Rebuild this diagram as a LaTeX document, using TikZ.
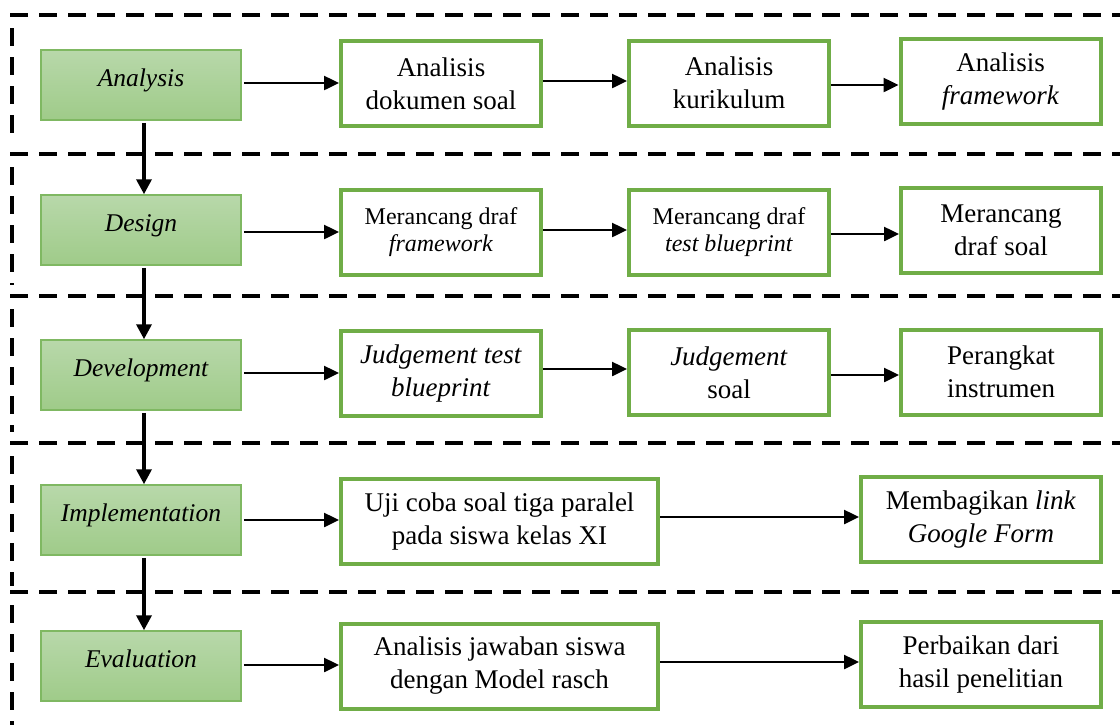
\documentclass[tikz,border=0pt]{standalone}
\usepackage{fontspec}
\setmainfont{Liberation Serif}
\usetikzlibrary{arrows.meta}
\definecolor{gborder}{HTML}{70AD47}
\definecolor{lborder}{HTML}{7FB862}
\definecolor{gtop}{HTML}{B8D8AA}
\definecolor{gbot}{HTML}{9FCB89}
\tikzset{
  phase/.style={draw=lborder, line width=1.5pt, top color=gtop, bottom color=gbot,
    minimum width=200pt, minimum height=70pt, inner sep=0pt,
    text height=18pt, text depth=15pt,
    font=\fontsize{25.5}{30}\selectfont\itshape},
  stepbox/.style={draw=gborder, line width=4pt, fill=white, inner sep=0pt,
    minimum height=85pt, align=center, font=\fontsize{27}{33}\selectfont},
  smallbox/.style={stepbox, font=\fontsize{24}{27}\selectfont},
  boxA/.style={minimum width=200pt},
  boxB/.style={minimum width=317pt},
  boxC/.style={minimum width=240pt},
  conn/.style={line width=2.5pt, -{Triangle[length=15pt, width=14pt]}},
  vconn/.style={line width=3.5pt, -{Triangle[length=15pt, width=15pt]}},
  sect/.style={line width=4pt, dash pattern=on 18pt off 11pt}
}
\begin{document}
\begin{tikzpicture}[x=1pt,y=-1pt]
\useasboundingbox (0,0) rectangle (1120,724);
% dashed section frames
\draw[sect] (1130,15) -- (12,15) -- (12,140);
\draw[sect] (1130,154) -- (12,154) -- (12,285);
\draw[sect] (1130,296) -- (12,296) -- (12,432);
\draw[sect] (1130,443) -- (12,443) -- (12,586);
\draw[sect] (1130,592) -- (12,592) -- (12,730);
% phase boxes
\node[phase] (an) at (141,85) {Analysis};
\node[phase] (de) at (141,230) {Design};
\node[phase] (dv) at (141,375) {Development};
\node[phase] (im) at (141,520) {Implementation};
\node[phase] (ev) at (141,666) {Evaluation};
% row 1
\node[stepbox, boxA] (a1) at (441,83.5) {Analisis\\dokumen soal};
\node[stepbox, boxA] (a2) at (729,83) {Analisis\\kurikulum};
\node[stepbox, boxA] (a3) at (1000.5,81.5) {Analisis\\\textit{framework}};
% row 2
\node[smallbox, boxA] (d1) at (441,232.5) {Merancang draf\\\textit{framework}};
\node[smallbox, boxA] (d2) at (729,232.5) {Merancang draf\\\textit{test blueprint}};
\node[stepbox, boxA] (d3) at (1001,230.5) {Merancang\\draf soal};
% row 3
\node[stepbox, boxA] (v1) at (441,373) {\textit{Judgement test}\\\textit{blueprint}};
\node[stepbox, boxA] (v2) at (729,372.5) {\textit{Judgement}\\soal};
\node[stepbox, boxA] (v3) at (1001,372) {Perangkat\\instrumen};
% row 4
\node[stepbox, boxB] (i1) at (499.5,521) {Uji coba soal tiga paralel\\pada siswa kelas XI};
\node[stepbox, boxC] (i2) at (981,519) {Membagikan \textit{link}\\\textit{Google Form}};
% row 5
\node[stepbox, boxB] (e1) at (499.5,666) {Analisis jawaban siswa\\dengan Model rasch};
\node[stepbox, boxC] (e2) at (981,664) {Perbaikan dari\\hasil penelitian};
% vertical arrows
\draw[vconn] ([shift={(3pt,-2pt)}]an.south) -- ([xshift=3pt]an.south |- de.north);
\draw[vconn] ([shift={(3pt,-2pt)}]de.south) -- ([xshift=3pt]de.south |- dv.north);
\draw[vconn] ([shift={(3pt,-2pt)}]dv.south) -- ([xshift=3pt]dv.south |- im.north);
\draw[vconn] ([shift={(3pt,-2pt)}]im.south) -- ([xshift=3pt]im.south |- ev.north);
% horizontal arrows
\draw[conn] ([xshift=2pt]an.east |- 0,83) -- (a1.west |- 0,83);
\draw[conn] (a1.east |- 0,81) -- (a2.west |- 0,81);
\draw[conn] (a2.east |- 0,85) -- (a3.west |- 0,85);
\draw[conn] ([xshift=2pt]de.east |- 0,232) -- (d1.west |- 0,232);
\draw[conn] (d1.east |- 0,230) -- (d2.west |- 0,230);
\draw[conn] (d2.east |- 0,234) -- (d3.west |- 0,234);
\draw[conn] ([xshift=2pt]dv.east |- 0,373) -- (v1.west |- 0,373);
\draw[conn] (v1.east |- 0,369) -- (v2.west |- 0,369);
\draw[conn] (v2.east |- 0,375) -- (v3.west |- 0,375);
\draw[conn] ([xshift=2pt]im.east |- 0,520) -- (i1.west |- 0,520);
\draw[conn] (i1.east |- 0,517) -- (i2.west |- 0,517);
\draw[conn] ([xshift=2pt]ev.east |- 0,665) -- (e1.west |- 0,665);
\draw[conn] (e1.east |- 0,662) -- (e2.west |- 0,662);
\end{tikzpicture}
\end{document}
